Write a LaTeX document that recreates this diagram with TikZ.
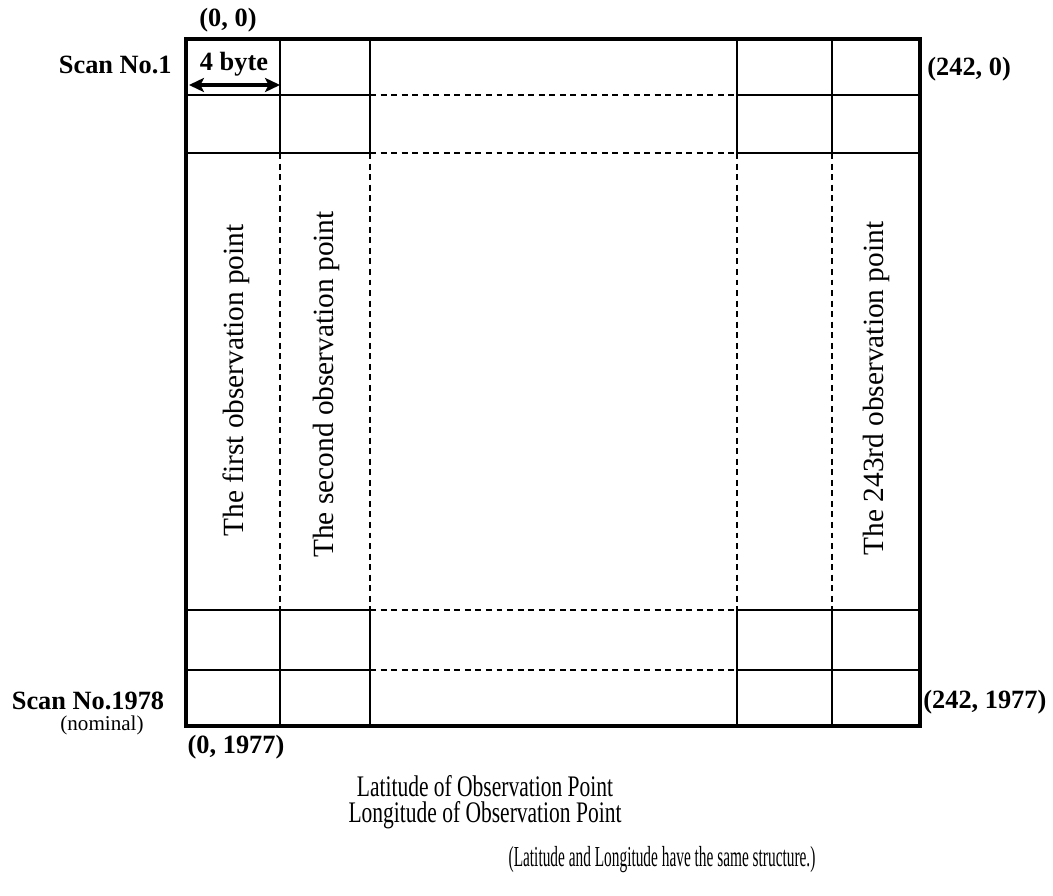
\documentclass[tikz,border=0pt]{standalone}
\usepackage{fontspec}
\setmainfont{Liberation Serif}
\newfontfamily\titlefont[FakeStretch=0.72]{Liberation Serif}
\newfontfamily\notefont[FakeStretch=0.53]{Liberation Serif}
\usetikzlibrary{arrows.meta}

\begin{document}
\begin{tikzpicture}[
    x=0.02cm, y=-0.02cm,
    cell/.style={line width=1pt},
    gap/.style={line width=1pt, dash pattern=on 3.4pt off 2.6pt},
    frame/.style={line width=2pt},
    coord/.style={font=\fontsize{15}{18}\selectfont\bfseries, inner sep=0pt},
    pointlbl/.style={font=\fontsize{16.7}{20}\selectfont, rotate=90,
                     anchor=base, inner sep=0pt},
  ]
    \useasboundingbox (0,0) rectangle (1053,895);

    % Columns: solid in the first and last two scans, dashed between
    \foreach \x in {280,370,737,832} {
      \draw[cell] (\x,39) -- (\x,153);
      \draw[cell] (\x,610) -- (\x,726);
      \draw[gap] (\x,153) -- (\x,610);
    }
    % Scan lines: solid in the outer columns, dashed between
    \foreach \y in {95,153,610,670} {
      \draw[cell] (186,\y) -- (370,\y);
      \draw[cell] (737,\y) -- (920,\y);
      \draw[gap] (370,\y) -- (737,\y);
    }
    % Outer frame
    \draw[frame] (186,39) rectangle (920,726);

    % Corner and scan labels
    \node[coord, anchor=base] (origin) at (228,27) {(0, 0)};
    \node[coord, anchor=base east] (scanfirst) at (172,74) {Scan No.1};
    \node[coord, anchor=base west] (topright) at (927,76) {(242, 0)};
    \node[coord, anchor=base] (scanlast) at (88,709) {Scan No.1978};
    \node[font=\fontsize{12}{14}\selectfont, anchor=base, inner sep=0pt]
      (nominal) at (102,730) {(nominal)};
    \node[coord, anchor=base] (bottomleft) at (236,753) {(0, 1977)};
    \node[coord, anchor=base west] (bottomright) at (923,708) {(242, 1977)};

    % Width of one observation point
    \node[coord, anchor=base] (bytes) at (234,71) {4 byte};
    \coordinate (bleft) at (189,85);
    \coordinate (bright) at (280,85);
    \draw[{Stealth[length=8.5pt, width=8pt, inset=2pt]}-{Stealth[length=8.5pt, width=8pt, inset=2pt]},
          line width=1.8pt] (bleft) -- (bright);

    % Observation point columns
    \node[pointlbl] (first) at (243,380.5) {The first observation point};
    \node[pointlbl] (second) at (333,384.5) {The second observation point};
    \node[pointlbl] (last) at (883,388.5) {The 243rd observation point};

    % Caption
    \node[font=\titlefont\fontsize{17}{15}\selectfont, align=center, inner sep=0pt]
      (caption) at (485,802) {Latitude of Observation Point\\Longitude of Observation Point};
    \node[font=\notefont\fontsize{16.5}{19}\selectfont, anchor=base, inner sep=0pt]
      (note) at (662,866) {(Latitude and Longitude have the same structure.)};
  \end{tikzpicture}
\end{document}
